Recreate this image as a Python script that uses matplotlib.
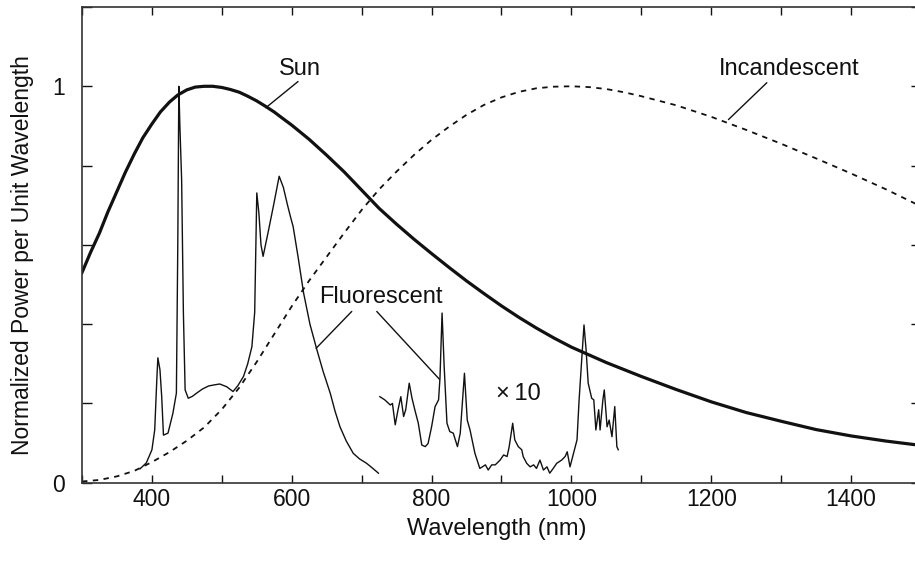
import matplotlib
matplotlib.use("Agg")
import matplotlib.pyplot as plt

# ---------------- data ----------------
sun_nm = [300, 312, 325, 337, 350, 362, 375, 387, 400, 412, 425, 437, 450, 462,
          475, 487, 500, 512, 525, 537, 550, 562, 575, 587, 600, 625, 650, 675,
          700, 725, 750, 775, 800, 825, 850, 875, 900, 925, 950, 975, 1000, 1050,
          1100, 1150, 1200, 1250, 1300, 1350, 1400, 1450, 1500]
sun_val = [0.53, 0.58, 0.63, 0.683, 0.735, 0.783, 0.83, 0.87, 0.905, 0.935, 0.96,
           0.978, 0.991, 0.998, 1.0, 1.0, 0.997, 0.992, 0.985, 0.975, 0.963, 0.95,
           0.935, 0.919, 0.902, 0.866, 0.826, 0.784, 0.738, 0.692, 0.652, 0.614,
           0.578, 0.543, 0.509, 0.477, 0.446, 0.417, 0.390, 0.365, 0.342, 0.303,
           0.268, 0.235, 0.204, 0.177, 0.155, 0.134, 0.118, 0.105, 0.094]

inc_nm = [300, 325, 350, 375, 400, 425, 450, 475, 500, 525, 550, 575, 600, 625,
          650, 675, 700, 725, 750, 775, 800, 825, 850, 875, 900, 925, 950, 975,
          1000, 1025, 1050, 1075, 1100, 1150, 1200, 1250, 1300, 1350, 1400, 1450,
          1500]
inc_val = [0.003, 0.007, 0.016, 0.03, 0.052, 0.077, 0.106, 0.14, 0.185, 0.24,
           0.305, 0.375, 0.445, 0.51, 0.57, 0.63, 0.688, 0.74, 0.785, 0.827,
           0.865, 0.898, 0.928, 0.953, 0.972, 0.986, 0.995, 0.999, 1.0, 0.998,
           0.993, 0.985, 0.975, 0.952, 0.923, 0.89, 0.855, 0.818, 0.78, 0.74,
           0.697]

flu_nm = [383, 392, 400, 404, 407, 408.5, 411.5, 414, 416.5, 423, 430, 435, 437,
          438.5, 440, 442.5, 445, 447.5, 452, 458, 464, 472, 481, 490, 497, 507,
          516, 523, 531, 537, 543, 547, 550, 553, 556, 559, 566, 574, 582, 588,
          594, 598, 602, 609, 617, 626, 636, 645, 655, 662, 669, 678, 688, 697,
          707, 716, 724]
flu_val = [0.035, 0.05, 0.083, 0.133, 0.26, 0.315, 0.285, 0.217, 0.12, 0.125,
           0.175, 0.226, 0.60, 1.0, 0.90, 0.764, 0.43, 0.234, 0.213, 0.218,
           0.226, 0.236, 0.244, 0.247, 0.249, 0.242, 0.23, 0.245, 0.268, 0.30,
           0.343, 0.43, 0.731, 0.68, 0.60, 0.571, 0.63, 0.70, 0.773, 0.745, 0.70,
           0.672, 0.646, 0.57, 0.478, 0.40, 0.335, 0.28, 0.226, 0.18, 0.141,
           0.105, 0.074, 0.06, 0.049, 0.036, 0.024]

# infrared part of the fluorescent spectrum, shown magnified x10
flu10_nm = [726, 733, 741, 744, 748, 752, 756, 760, 763, 768, 772, 776, 781, 786,
            791, 795, 800, 805, 810, 812, 815, 818, 822, 826, 831, 837, 841, 847,
            851, 855, 862, 869, 877, 881, 886, 891, 898, 903, 908, 911, 916, 919,
            924, 929, 931, 936, 941, 946, 950, 955, 960, 965, 969, 974, 979, 986,
            991, 994, 998, 1003, 1008, 1011, 1015, 1018, 1021, 1024, 1029, 1032,
            1035, 1039, 1041, 1045, 1047, 1051, 1054, 1058, 1062, 1065, 1067]
flu10_val = [0.217, 0.209, 0.196, 0.2, 0.146, 0.184, 0.217, 0.167, 0.184, 0.251,
             0.213, 0.184, 0.15, 0.095, 0.091, 0.099, 0.141, 0.192, 0.209, 0.264,
             0.428, 0.293, 0.15, 0.129, 0.125, 0.091, 0.125, 0.276, 0.158, 0.133,
             0.074, 0.036, 0.045, 0.032, 0.045, 0.045, 0.057, 0.07, 0.066, 0.091,
             0.15, 0.108, 0.091, 0.083, 0.066, 0.049, 0.04, 0.045, 0.036, 0.057,
             0.032, 0.04, 0.024, 0.036, 0.049, 0.057, 0.066, 0.078, 0.04, 0.074,
             0.108, 0.209, 0.318, 0.398, 0.335, 0.251, 0.213, 0.209, 0.133, 0.184,
             0.133, 0.209, 0.234, 0.141, 0.158, 0.116, 0.192, 0.091, 0.083]

x_ticks = [300, 400, 500, 600, 700, 800, 900, 1000, 1100, 1200, 1300, 1400, 1500]
x_tick_labels = ["", "400", "", "600", "", "800", "", "1000", "", "1200", "", "1400", ""]
y_ticks = [0, 0.2, 0.4, 0.6, 0.8, 1.0, 1.2]
y_tick_labels = ["0", "", "", "", "", "1", ""]

# ---------------- figure ----------------
plt.rcParams['font.family'] = ['Liberation Sans', 'DejaVu Sans']
W, H = 915, 561
fig = plt.figure(figsize=(W / 100, H / 100), dpi=100)
ax = fig.add_axes([82 / W, (H - 482.7) / H, (921 - 82) / W, 475.7 / H])

ink = '#111111'
ax.plot(sun_nm, sun_val, color=ink, lw=2.3, solid_joinstyle='round')
ax.plot(inc_nm, inc_val, color=ink, lw=1.3, linestyle=(0, (3, 3)))
ax.plot(flu_nm, flu_val, color=ink, lw=1.0)
ax.plot(flu10_nm, flu10_val, color=ink, lw=1.0)

ax.set_xlim(300, 1500)
ax.set_ylim(0, 1.2)
ax.set_xticks(x_ticks)
ax.set_xticklabels(x_tick_labels)
ax.set_yticks(y_ticks)
ax.set_yticklabels(y_tick_labels)
ax.tick_params(axis='both', direction='in', top=True, right=True, colors=ink,
               labelsize=16.5, width=1.0)
ax.tick_params(axis='x', length=6, pad=4)
ax.tick_params(axis='y', length=7, pad=12)
for s in ax.spines.values():
    s.set_color('#333333')
    s.set_linewidth(1.2)

ax.set_xlabel('Wavelength (nm)', fontsize=17, color=ink)
ax.xaxis.set_label_coords(0.494, -0.098)
ax.xaxis.label.set_va('center')
ax.set_ylabel('Normalized Power per Unit Wavelength', fontsize=16.5, color=ink)
ax.yaxis.set_label_coords(-0.0715, 0.479)
ax.yaxis.label.set_va('center')

# ---------------- annotations ----------------
tfs = 17
ax.text(611, 1.0295, 'Sun', ha='center', va='baseline', fontsize=tfs, color=ink)
ax.text(1312, 1.0295, 'Incandescent', ha='center', va='baseline', fontsize=tfs, color=ink)
ax.text(727, 0.453, 'Fluorescent', ha='center', va='baseline', fontsize=tfs, color=ink)
ax.text(924, 0.209, '\u00d7\u200910', ha='center', va='baseline', fontsize=tfs, color=ink)

leaders = [((609, 1.012), (563, 0.946)),
           ((1279.5, 1.009), (1224.6, 0.916)),
           ((685.8, 0.432), (634.8, 0.339)),
           ((721.6, 0.432), (811.2, 0.261))]
for start, end in leaders:
    ax.annotate('', xy=end, xytext=start,
                arrowprops=dict(arrowstyle='-', color=ink, lw=1.0,
                                shrinkA=0, shrinkB=0))

fig.savefig('out.png', dpi=100)
